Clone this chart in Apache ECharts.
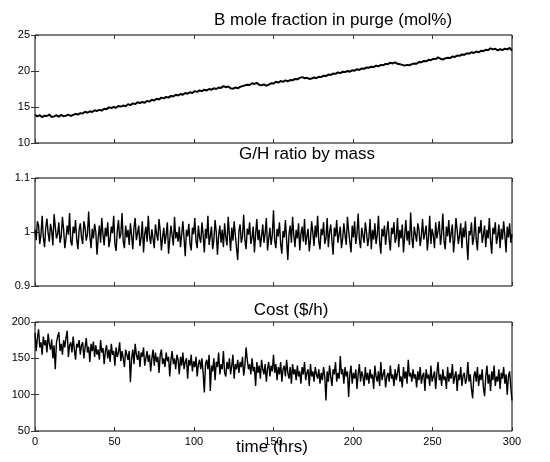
<!DOCTYPE html>
<html>
<head>
<meta charset="utf-8">
<script src="https://cdn.jsdelivr.net/npm/echarts@6/dist/echarts.min.js"></script>
<style>
html,body{margin:0;padding:0;background:#fff;}
#chart{width:550px;height:462px;}
</style>
</head>
<body>
<div id="chart"></div>
<script>
const timeStart = 0;
const timeEnd = 300;
const xTicks = [0, 50, 100, 150, 200, 250, 300];

const titles = ["B mole fraction in purge (mol%)", "G/H ratio by mass", "Cost ($/h)"];
const xLabel = "time (hrs)";

// B mole fraction in purge (mol%), evenly sampled over 0..300 h
const bPurge = [
13.9,13.7,13.85,13.6,13.8,13.75,13.95,13.6,13.7,13.85,
13.65,13.9,13.7,13.8,13.95,13.75,13.9,14.05,13.95,14.15,
14.1,14.35,14.2,14.4,14.3,14.55,14.45,14.6,14.5,14.75,
14.7,14.95,14.85,15.0,14.9,15.15,15.05,15.2,15.1,15.4,
15.25,15.5,15.4,15.65,15.55,15.7,15.6,15.85,15.75,16.0,
15.9,16.15,16.05,16.3,16.2,16.4,16.3,16.55,16.45,16.7,
16.6,16.8,16.7,16.95,16.85,17.05,16.95,17.2,17.1,17.3,
17.2,17.4,17.3,17.5,17.4,17.6,17.5,17.7,17.65,17.9,
17.75,17.85,17.6,17.55,17.7,17.6,17.8,17.9,18.0,18.1,
18.05,18.3,18.2,18.35,18.1,18.0,18.15,17.95,18.1,18.3,
18.25,18.5,18.4,18.6,18.5,18.7,18.55,18.75,18.7,18.9,
18.85,19.05,19.15,19.0,19.05,18.9,18.95,19.1,19.0,19.2,
19.15,19.35,19.3,19.5,19.45,19.65,19.6,19.8,19.7,19.9,
19.85,20.0,19.9,20.1,20.05,20.25,20.15,20.35,20.3,20.5,
20.45,20.6,20.55,20.75,20.65,20.85,20.8,21.0,20.95,21.15,
21.05,21.2,21.0,20.95,20.85,20.75,20.85,20.8,20.95,21.05,
21.0,21.25,21.2,21.4,21.35,21.55,21.5,21.7,21.65,21.9,
21.7,21.6,21.75,21.85,21.8,22.0,21.95,22.15,22.1,22.3,
22.25,22.45,22.4,22.6,22.5,22.7,22.6,22.8,22.75,22.95,
22.9,23.15,23.0,23.1,22.85,23.05,22.9,23.1,23.0,23.2,
22.85
];

// G/H ratio by mass, evenly sampled over 0..300 h
const ghRatio = [
1.005,0.985,1.020,1.012,0.978,0.995,1.030,0.990,0.972,1.008,1.025,0.998,0.982,1.015,1.002,0.975,1.033,1.010,0.988,0.996,
1.018,0.980,0.992,1.028,1.005,0.970,0.988,1.012,0.995,1.035,0.982,0.975,1.010,0.998,1.022,0.986,0.968,1.004,1.016,0.990,
0.978,1.020,1.008,0.984,0.996,1.038,0.992,0.970,1.006,0.988,1.015,1.000,0.958,0.990,1.012,0.980,1.026,0.995,0.975,1.008,
0.992,1.018,0.972,0.986,1.010,0.998,1.030,0.978,0.965,1.002,1.022,0.988,0.996,1.035,0.982,0.970,1.012,0.990,1.004,0.976,
1.016,0.994,0.968,1.008,1.026,0.985,0.998,1.012,0.974,0.990,1.020,0.962,0.996,1.010,0.982,1.030,0.992,0.978,1.005,0.988,
0.970,1.014,0.996,0.984,1.024,1.002,0.966,0.990,1.008,0.978,0.995,1.018,0.960,0.986,1.012,0.994,0.975,1.028,0.988,1.000,
0.982,1.010,0.972,0.995,1.020,0.988,0.955,1.004,0.992,1.015,0.978,0.966,1.008,0.996,1.026,0.984,0.970,1.012,0.990,0.980,
1.018,0.995,0.962,1.006,0.988,1.030,0.976,0.992,1.010,0.968,0.985,1.022,1.000,0.958,0.994,1.012,0.980,1.004,0.972,1.016,
0.990,0.975,1.028,0.996,0.965,1.008,0.984,1.020,0.994,0.970,0.948,1.002,1.014,0.980,0.992,1.032,0.986,0.968,1.006,0.995,
1.018,0.978,0.990,1.010,0.962,0.996,1.024,0.985,1.004,0.972,0.992,1.014,0.980,0.998,1.026,0.966,0.988,1.008,0.976,0.994,
1.040,0.984,0.970,1.006,0.992,1.018,0.978,0.960,1.002,0.990,1.022,0.985,0.948,0.996,1.012,0.980,1.028,0.994,0.972,1.004,
0.988,1.016,0.966,0.996,1.010,0.982,1.024,0.976,0.992,1.006,0.964,0.986,1.020,0.998,0.974,1.012,0.990,1.030,0.982,0.968,
1.006,0.994,1.018,0.978,0.988,1.026,0.972,1.000,1.014,0.984,0.958,1.008,0.992,1.022,0.980,0.996,1.010,0.970,0.988,1.016,
0.994,0.976,1.028,1.002,0.982,0.962,1.012,0.990,1.020,0.978,0.996,1.034,0.986,0.970,1.008,0.994,0.980,1.018,1.000,0.974,
0.990,1.024,0.968,1.004,0.986,1.016,0.978,0.994,1.030,0.982,0.960,1.006,0.992,1.012,0.976,1.000,1.020,0.986,0.966,1.008,
0.996,1.018,0.980,0.990,1.026,0.972,1.004,0.988,1.014,0.962,0.994,1.022,0.984,1.002,0.976,1.036,0.990,0.970,1.010,0.996,
0.982,1.016,1.004,0.974,0.992,1.024,0.986,0.998,1.012,0.966,0.990,1.030,0.978,1.006,0.994,0.970,1.018,0.988,1.002,1.020,
0.976,0.996,1.034,0.984,0.968,1.010,0.992,1.022,0.980,0.998,1.014,0.962,0.988,1.026,1.004,0.978,0.994,1.016,0.970,1.008,
0.990,1.020,0.982,0.948,1.002,0.994,1.018,0.976,0.990,1.028,0.986,0.966,1.010,0.998,1.022,0.980,0.994,1.012,0.972,1.004,
0.988,1.026,0.984,0.960,1.008,0.996,1.018,0.978,0.992,1.014,0.970,1.006,0.986,1.020,0.994,0.962,1.010,0.990,1.016,0.980,
0.996
];

// Cost ($/h), evenly sampled over 0..300 h
const cost = [
185,160,178,190,165,172,155,180,168,175,158,184,170,162,176,150,168,135,172,180,
186,160,170,155,175,165,178,188,152,168,172,158,180,162,148,170,165,175,155,168,
172,150,165,178,158,166,145,170,160,173,152,168,155,162,148,175,158,164,142,160,
168,150,162,145,170,155,160,140,165,152,158,172,146,160,150,138,162,155,148,160,
117,150,162,142,170,155,148,160,138,158,152,165,140,150,160,145,155,132,150,162,
140,158,145,152,130,155,162,142,150,138,158,146,152,125,148,160,142,150,135,155,
148,128,152,140,158,135,145,150,122,148,140,155,132,146,138,152,125,142,148,135,
150,130,103,142,148,135,155,105,140,132,150,120,145,138,158,128,142,135,160,130,
125,145,135,150,128,140,155,122,142,135,148,130,145,138,152,126,140,165,148,135,
142,128,150,132,138,112,145,130,140,122,148,135,128,142,118,136,145,125,140,132,
155,130,142,120,138,128,145,118,135,140,125,148,130,122,138,115,142,128,135,120,
140,125,132,115,138,128,145,120,130,135,112,142,125,132,118,138,128,122,135,115,
130,120,138,125,92,132,118,140,125,112,135,128,145,118,130,122,153,128,135,115,
138,125,132,97,128,140,115,130,122,135,108,128,142,118,132,125,112,138,120,130,
115,135,122,128,108,140,125,118,132,112,145,120,128,135,110,125,130,118,140,122,
128,112,135,120,130,142,118,125,110,138,122,132,115,148,125,130,118,135,122,128,
110,132,120,138,115,126,130,105,135,122,128,112,140,118,125,132,108,130,145,120,
128,112,135,120,125,108,138,118,130,122,142,115,125,132,105,128,120,138,112,126,
130,115,122,145,118,128,108,95,125,132,118,138,112,128,120,135,110,98,125,140,
115,128,105,132,120,140,112,125,118,135,108,130,122,138,115,128,100,125,132,110,
92
];

const yRanges = [
  {min: 10, max: 25, interval: 5},
  {min: 0.9, max: 1.1, interval: 0.1},
  {min: 50, max: 200, interval: 50}
];
const seriesValues = [bPurge, ghRatio, cost];

const FONT = "Liberation Sans, Arial, Helvetica, sans-serif";
const grids = [
  {left: 35, top: 35, width: 477, height: 108},
  {left: 35, top: 178, width: 477, height: 108},
  {left: 35, top: 322, width: 477, height: 109}
];

const xAxes = [], yAxes = [], series = [];
grids.forEach((g, k) => {
  const tick = {show: true, inside: true, length: 4, lineStyle: {color: '#333', width: 1}};
  xAxes.push({
    gridIndex: k, type: 'value', position: 'bottom', min: timeStart, max: timeEnd, interval: 50,
    axisLine: {show: false}, axisTick: tick, splitLine: {show: false},
    axisLabel: {show: k === 2, color: '#000', fontSize: 11, fontFamily: FONT, margin: 5}
  });
  xAxes.push({
    gridIndex: k, type: 'value', position: 'top', min: timeStart, max: timeEnd, interval: 50,
    axisLine: {show: false}, axisTick: tick, splitLine: {show: false}, axisLabel: {show: false}
  });
  const r = yRanges[k];
  yAxes.push({
    gridIndex: k, type: 'value', position: 'left', min: r.min, max: r.max, interval: r.interval,
    axisLine: {show: false}, axisTick: tick, splitLine: {show: false},
    axisLabel: {show: true, color: '#000', fontSize: 11, fontFamily: FONT, margin: 5,
      formatter: v => String(Math.round(v * 1000) / 1000)}
  });
  yAxes.push({
    gridIndex: k, type: 'value', position: 'right', min: r.min, max: r.max, interval: r.interval,
    axisLine: {show: false}, axisTick: tick, splitLine: {show: false}, axisLabel: {show: false}
  });
  const vals = seriesValues[k];
  const step = (timeEnd - timeStart) / (vals.length - 1);
  series.push({
    type: 'line', xAxisIndex: k * 2, yAxisIndex: k * 2, showSymbol: false, symbol: 'none',
    lineStyle: {color: '#000', width: k === 0 ? 2 : 1.4},
    data: vals.map((v, i) => [timeStart + i * step, v]),
    silent: true
  });
});

const chart = echarts.init(document.getElementById('chart'), null, {renderer: 'canvas'});
chart.setOption({
  animation: false,
  backgroundColor: '#fff',
  grid: grids.map(g => Object.assign({show: true, borderColor: '#000', borderWidth: 1, backgroundColor: 'transparent'}, g)),
  xAxis: xAxes,
  yAxis: yAxes,
  series: series,
  graphic: [
    {type: 'text', x: 333, y: 20, style: {text: titles[0], fill: '#000', font: '17px ' + FONT, textAlign: 'center', textVerticalAlign: 'middle'}},
    {type: 'text', x: 307, y: 154, style: {text: titles[1], fill: '#000', font: '17px ' + FONT, textAlign: 'center', textVerticalAlign: 'middle'}},
    {type: 'text', x: 291, y: 310, style: {text: titles[2], fill: '#000', font: '17px ' + FONT, textAlign: 'center', textVerticalAlign: 'middle'}},
    {type: 'text', x: 272, y: 447, style: {text: xLabel, fill: '#000', font: '17px ' + FONT, textAlign: 'center', textVerticalAlign: 'middle'}}
  ]
});
</script>
</body>
</html>
